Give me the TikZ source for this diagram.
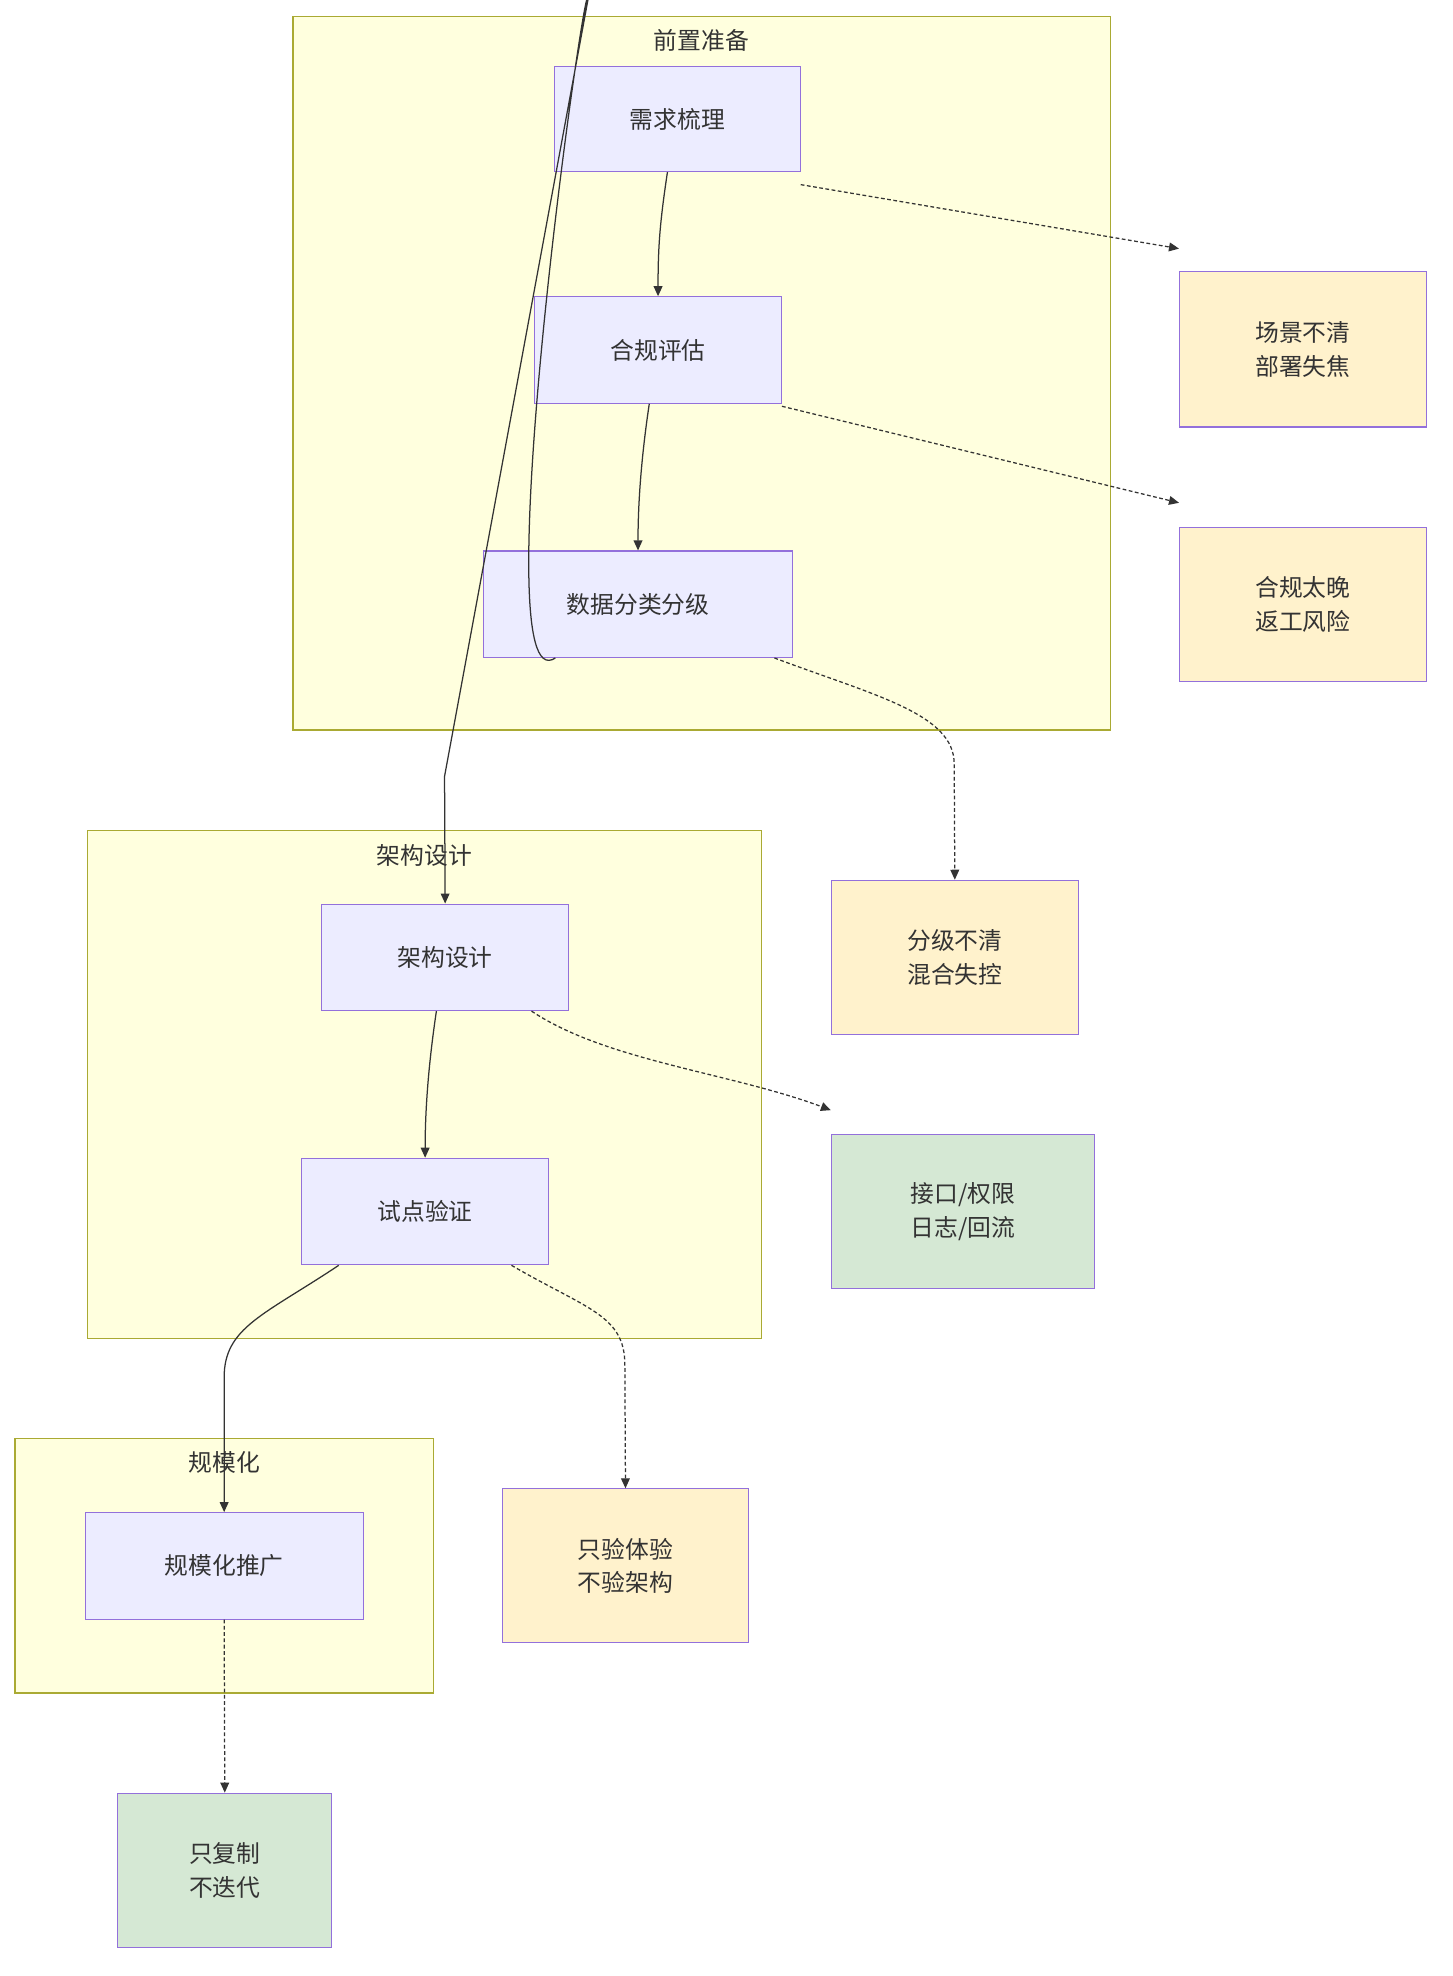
\documentclass[tikz,border=0pt]{standalone}
\usepackage{fontspec}
\setmainfont{Noto Sans CJK SC}
\usetikzlibrary{arrows.meta}
\definecolor{nf}{HTML}{ECECFF}\definecolor{ns}{HTML}{9370DB}
\definecolor{cf}{HTML}{FFFFDE}\definecolor{cs}{HTML}{AAAA33}
\definecolor{yf}{HTML}{FFF2CC}\definecolor{gf}{HTML}{D5E8D4}
\definecolor{tx}{HTML}{333333}
\begin{document}
\begin{tikzpicture}[x=1pt,y=-1pt,
  every node/.style={text=tx,font=\fontsize{19}{27}\selectfont,inner sep=0pt},
  cl/.style={draw=cs,fill=cf,line width=0.9pt},
  box/.style={draw=ns,line width=0.9pt,align=center},
  nb/.style={box,fill=nf},
  yb/.style={box,fill=yf},
  gb/.style={box,fill=gf},
  ar/.style={draw=tx,line width=1pt,-{Triangle[length=8pt,width=7pt]}},
  da/.style={ar,dash pattern=on 3pt off 2pt}]
\useasboundingbox (0,0) rectangle (1160,1578);
\fill[white] (0,0) rectangle (1160,1578);
% clusters
\draw[cl] (234,13) rectangle (887,583);
\node (c1) at (560,32) {前置准备};
\draw[cl] (70,663) rectangle (608,1069);
\node (c2) at (339,683) {架构设计};
\draw[cl] (12,1149) rectangle (346,1352);
\node (c3) at (179,1168) {规模化};
% nodes
\newcommand{\bx}[6]{\node[#2,minimum width={#5-#3},minimum height={#6-#4}] (#1) at ({(#3+#5)/2},{(#4+#6)/2})}
\bx{a}{nb}{443}{53}{639}{137} {需求梳理};
\bx{b}{nb}{427}{237}{624}{322} {合规评估};
\bx{c}{nb}{386}{440}{633}{525} {数据分类分级};
\bx{s1}{yb}{942}{217}{1139}{341} {场景不清\\部署失焦};
\bx{s2}{yb}{942}{421}{1139}{544} {合规太晚\\返工风险};
\bx{d}{nb}{257}{722}{454}{807} {架构设计};
\bx{e}{nb}{241}{925}{438}{1010} {试点验证};
\bx{s3}{yb}{664}{703}{861}{826} {分级不清\\混合失控};
\bx{s4}{gb}{664}{906}{874}{1029} {接口/权限\\日志/回流};
\bx{f}{nb}{68}{1208}{290}{1293} {规模化推广};
\bx{s5}{yb}{401}{1189}{598}{1312} {只验体验\\不验架构};
\bx{s6}{gb}{94}{1432}{265}{1555} {只复制\\不迭代};
% solid edges
\draw[ar] ([xshift=-8pt]a.south) .. controls +(-6,40) and +(0,-40) .. (b.north);
\draw[ar] ([xshift=-7pt]b.south) .. controls +(-6,40) and +(0,-40) .. (c.north);
\draw[ar] ([xshift=-66pt]c.south) .. controls +(-60,40) and +(0,-40) .. ([xshift=-40pt,yshift=0pt]c.south |- 0,0) ++(0,0) -- (355,620) -- (d.north);
\draw[ar] ([xshift=-7pt]d.south) .. controls +(-6,40) and +(0,-40) .. (e.north);
\draw[ar] ([xshift=-69pt]e.south) .. controls +(-60,40) and +(0,-40) .. (179,1100) -- ([xshift=0pt]f.north);
% dashed edges
\draw[da] ([yshift=-10pt]a.south east) -- ([yshift=18pt]s1.north west);
\draw[da] ([yshift=-2pt]b.south east) -- ([yshift=19pt]s2.north west);
\draw[da] ([xshift=-15pt]c.south east) .. controls +(80,30) and +(0,-40) .. (762,610) -- (s3.north);
\draw[da] ([xshift=-30pt]d.south east) .. controls +(60,40) and +(-80,-30) .. ([yshift=19pt]s4.north west);
\draw[da] ([xshift=-30pt]e.south east) .. controls +(60,35) and +(0,-40) .. (499,1090) -- (s5.north);
\draw[da] (f.south) -- (s6.north);
\end{tikzpicture}
\end{document}
